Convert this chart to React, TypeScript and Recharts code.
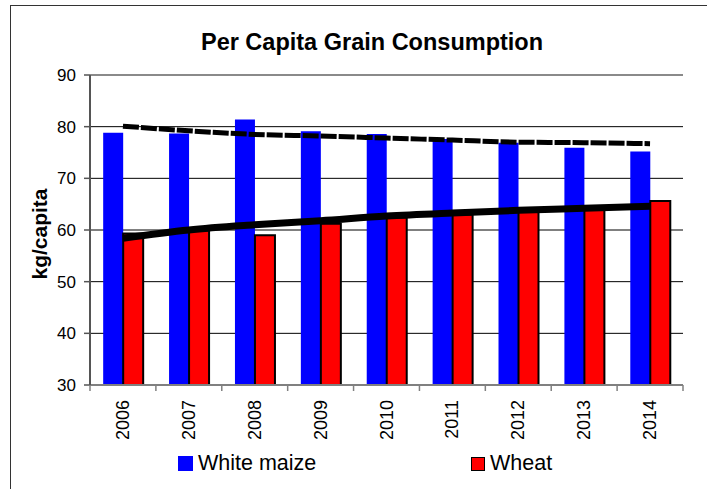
import { ComposedChart, Bar, Line, XAxis, YAxis, CartesianGrid, ReferenceLine, Label } from 'recharts';

const years = ['2006', '2007', '2008', '2009', '2010', '2011', '2012', '2013', '2014'];
const whiteMaize = [78.8, 78.7, 81.4, 79.1, 78.6, 77.6, 76.9, 75.9, 75.2];
const wheat = [59.3, 59.9, 59.0, 61.2, 62.4, 63.0, 63.5, 64.3, 65.6];
// trend lines as drawn on the original chart
const maizeTrend = [80.1, 79.2, 78.5, 78.2, 77.8, 77.4, 77.0, 76.9, 76.7];
const wheatTrend = [58.4, 60.0, 61.0, 61.8, 62.7, 63.3, 63.8, 64.2, 64.6];
const yTicks = [30, 40, 50, 60, 70, 80, 90];

const W = 707;
const H = 489;
const M = { top: 75, right: 24, left: 0, bottom: 0 };
const Y_AXIS_W = 90;
const X_AXIS_H = 104;
const BAND = (W - M.left - M.right - Y_AXIS_W) / years.length;
const FONT = '"Liberation Sans", Arial, sans-serif';

const data = years.map((year, i) => ({
  year,
  maize: whiteMaize[i],
  wheat: wheat[i],
  maizeTrend: maizeTrend[i],
  wheatTrend: wheatTrend[i],
}));

function YearTick(props: any) {
  const { x, y, payload, index } = props;
  const left = x - BAND / 2;
  return (
    <g>
      <line x1={left} y1={y} x2={left} y2={y + 6} stroke="#808080" strokeWidth={1.5} />
      {index === years.length - 1 && (
        <line x1={x + BAND / 2} y1={y} x2={x + BAND / 2} y2={y + 6} stroke="#808080" strokeWidth={1.5} />
      )}
      <text
        x={x}
        y={y + 15}
        transform={`rotate(-90 ${x} ${y + 15})`}
        textAnchor="end"
        dominantBaseline="central"
        fontSize={18}
        fontFamily={FONT}
        fill="#000"
      >
        {payload.value}
      </text>
    </g>
  );
}

export default function App() {
  return (
    <div style={{ position: 'absolute', left: 0, top: 0, width: W, height: H, overflow: 'hidden', background: '#fff' }}>
      <div
        style={{
          position: 'absolute',
          left: 10,
          top: 5,
          width: 760,
          height: 540,
          borderLeft: '1.5px solid #333',
          borderTop: '1.5px solid #333',
        }}
      />
      <div
        style={{
          position: 'absolute',
          left: 172,
          width: 400,
          top: 29,
          textAlign: 'center',
          fontFamily: FONT,
          fontWeight: 'bold',
          fontSize: 23.5,
          lineHeight: '26px',
          color: '#000',
        }}
      >
        Per Capita Grain Consumption
      </div>
      <div style={{ position: 'absolute', left: 0, top: 0 }}>
        <ComposedChart width={W} height={H} data={data} margin={M} barCategoryGap="20%" barGap={0}>
          <CartesianGrid vertical={false} stroke="#000" strokeWidth={1} />
          <XAxis
            dataKey="year"
            height={X_AXIS_H}
            interval={0}
            tickLine={false}
            tickSize={0}
            tickMargin={0}
            axisLine={{ stroke: '#808080', strokeWidth: 2 }}
            tick={<YearTick />}
          />
          <YAxis
            domain={[30, 90]}
            ticks={yTicks}
            width={Y_AXIS_W}
            interval={0}
            tickSize={6}
            tickMargin={8}
            axisLine={{ stroke: '#555', strokeWidth: 2 }}
            tickLine={{ stroke: '#555', strokeWidth: 1.5 }}
            tick={{ fill: '#000', fontSize: 17, fontFamily: FONT }}
          >
            <Label
              value="kg/capita"
              angle={-90}
              position="center"
              dx={-5}
              dy={4}
              style={{ fontFamily: FONT, fontWeight: 'bold', fontSize: 21, fill: '#000' }}
            />
          </YAxis>
          <YAxis yAxisId="frame" orientation="right" width={0} domain={[30, 90]} tick={false} tickLine={false} axisLine={{ stroke: '#8a8a8a', strokeWidth: 2 }} />
          <ReferenceLine y={90} stroke="#8a8a8a" strokeWidth={2} />
          <Bar dataKey="maize" name="White maize" fill="#0000ff" isAnimationActive={false} />
          <Bar dataKey="wheat" name="Wheat" fill="#ff0000" stroke="#000" strokeWidth={2} isAnimationActive={false} />
          <Line
            type="monotone"
            dataKey="maizeTrend"
            stroke="#000"
            strokeWidth={5}
            strokeDasharray="16 2"
            dot={false}
            activeDot={false}
            legendType="none"
            isAnimationActive={false}
          />
          <Line
            type="monotone"
            dataKey="wheatTrend"
            stroke="#000"
            strokeWidth={7}
            dot={false}
            activeDot={false}
            legendType="none"
            isAnimationActive={false}
          />
        </ComposedChart>
      </div>
      <div style={{ position: 'absolute', top: 451, left: 178, display: 'flex', alignItems: 'center', fontFamily: FONT, fontSize: 21.5, color: '#000' }}>
        <span style={{ display: 'inline-block', width: 15, height: 15, background: '#0000ff', marginRight: 5 }} />
        White maize
      </div>
      <div style={{ position: 'absolute', top: 451, left: 471, display: 'flex', alignItems: 'center', fontFamily: FONT, fontSize: 21.5, color: '#000' }}>
        <span style={{ display: 'inline-block', width: 12, height: 12, background: '#ff0000', border: '1.5px solid #000', marginRight: 5 }} />
        Wheat
      </div>
    </div>
  );
}
